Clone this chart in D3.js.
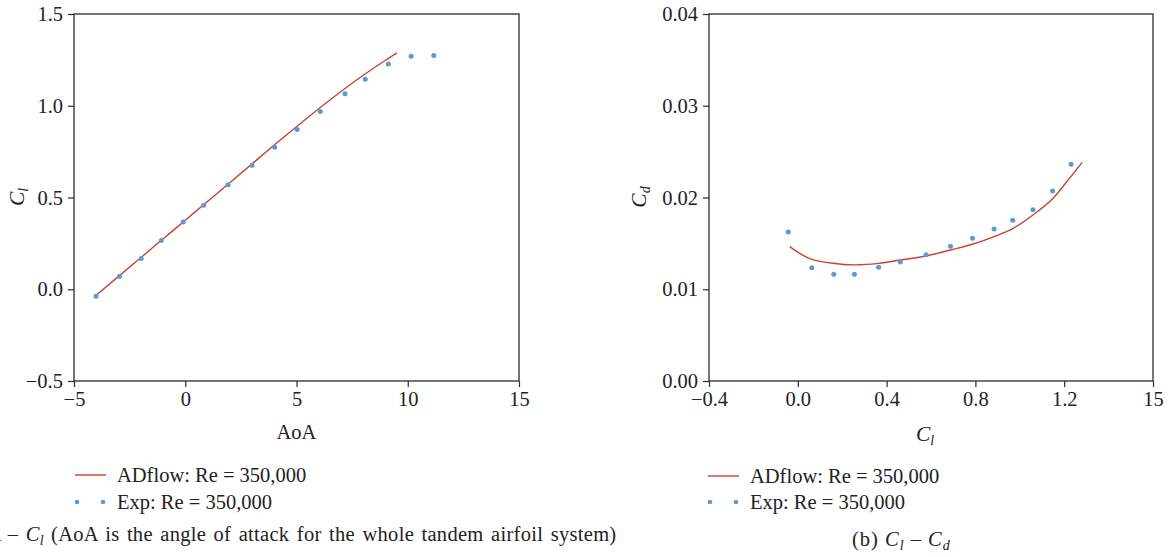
<!DOCTYPE html>
<html>
<head>
<meta charset="utf-8">
<script src="https://cdn.jsdelivr.net/npm/d3@7"></script>
<style>
  html, body { margin: 0; padding: 0; background: #fff; }
  svg { display: block; }
  text { font-family: "Liberation Serif", "DejaVu Serif", serif; fill: #222; }
</style>
</head>
<body>
<svg id="chart" width="1174" height="557"></svg>
<script>
// Panel (a): lift coefficient vs angle of attack
const aoaSim = [-4, -3, -2, -1, 0, 1, 2, 3, 4, 5, 6, 7, 8, 9, 9.52];
const clSim  = [-0.033, 0.07, 0.172, 0.274, 0.376, 0.478, 0.58, 0.683, 0.786, 0.886, 0.984, 1.078, 1.166, 1.248, 1.288];
const aoaExp = [-4.01, -2.96, -1.98, -1.08, -0.09, 0.83, 1.92, 3.0, 4.02, 5.03, 6.07, 7.18, 8.09, 9.13, 10.15, 11.17];
const clExp  = [-0.038, 0.069, 0.167, 0.265, 0.367, 0.458, 0.570, 0.676, 0.774, 0.870, 0.968, 1.066, 1.144, 1.228, 1.270, 1.274];

// Panel (b): drag polar
const polarClSim = [-0.036, 0.015, 0.063, 0.157, 0.255, 0.364, 0.462, 0.578, 0.688, 0.787, 0.884, 0.968, 1.059, 1.148, 1.206, 1.281];
const polarCdSim = [0.01464, 0.01381, 0.01326, 0.01283, 0.01266, 0.01282, 0.01319, 0.01362, 0.01428, 0.0149, 0.01573, 0.0166, 0.01809, 0.01987, 0.02155, 0.02383];
const polarClExp = [-0.043, 0.063, 0.162, 0.255, 0.364, 0.462, 0.578, 0.688, 0.787, 0.884, 0.968, 1.059, 1.148, 1.231];
const polarCdExp = [0.01624, 0.01235, 0.01163, 0.01163, 0.01239, 0.01297, 0.01377, 0.01468, 0.01555, 0.01657, 0.01751, 0.01867, 0.02071, 0.02362];

// Tick values and labels
const aoaTicks = [-5, 0, 5, 10, 15];
const clTicks = [-0.5, 0, 0.5, 1.0, 1.5];
const clTickLabels = ["\u22120.5", "0.0", "0.5", "1.0", "1.5"];
const polarXTicks = [-0.4, 0, 0.4, 0.8, 1.2, 1.6];
const polarXTickLabels = ["\u22120.4", "0.0", "0.4", "0.8", "1.2", "15"];
const cdTicks = [0, 0.01, 0.02, 0.03, 0.04];
const cdTickLabels = ["0.00", "0.01", "0.02", "0.03", "0.04"];

const seriesNames = ["ADflow: Re = 350,000", "Exp: Re = 350,000"];

const RED = "#c8432d";
const BLUE = "#5a9bd3";
const AXIS = "#2b2b2b";
const FS = 20.5;
const SUB = 14;

const svg = d3.select("#chart");

function panel(opts) {
  const { left, right, top, bottom, xDomain, yDomain, xTicks, xLabels, yTicks, yLabels,
          simX, simY, expX, expY, curve } = opts;
  const x = d3.scaleLinear().domain(xDomain).range([left, right]);
  const y = d3.scaleLinear().domain(yDomain).range([bottom, top]);
  const g = svg.append("g");

  const xAxis = d3.axisBottom(x).tickValues(xTicks).tickSize(6).tickPadding(4)
    .tickFormat((d, i) => xLabels[i]);
  const yAxis = d3.axisLeft(y).tickValues(yTicks).tickSize(6).tickPadding(5)
    .tickFormat((d, i) => yLabels[i]);

  const gx = g.append("g").attr("transform", `translate(0,${bottom})`).call(xAxis);
  const gy = g.append("g").attr("transform", `translate(${left},0)`).call(yAxis);
  [gx, gy].forEach(a => {
    a.select(".domain").remove();
    a.selectAll(".tick line").attr("stroke", AXIS).attr("stroke-width", 1.2);
    a.selectAll(".tick text").attr("font-size", FS).attr("fill", "#222")
      .attr("font-family", "Liberation Serif, serif");
  });

  // full frame around the plotting area
  g.append("rect")
    .attr("x", left).attr("y", top)
    .attr("width", right - left).attr("height", bottom - top)
    .attr("fill", "none").attr("stroke", AXIS).attr("stroke-width", 1.3);

  const simPts = simX.map((v, i) => [v, simY[i]]);
  g.append("path")
    .datum(simPts)
    .attr("fill", "none").attr("stroke", RED).attr("stroke-width", 1.4)
    .attr("d", d3.line().x(d => x(d[0])).y(d => y(d[1])).curve(curve));

  const expPts = expX.map((v, i) => [v, expY[i]]);
  g.selectAll("circle.exp").data(expPts).enter().append("circle")
    .attr("class", "exp")
    .attr("cx", d => x(d[0])).attr("cy", d => y(d[1]))
    .attr("r", 2.5).attr("fill", BLUE);

  return { x, y, g };
}

function legend(x0, yLine, yDots) {
  const g = svg.append("g");
  g.append("line")
    .attr("x1", x0).attr("x2", x0 + 31).attr("y1", yLine).attr("y2", yLine)
    .attr("stroke", RED).attr("stroke-width", 1.4);
  g.append("text").attr("x", x0 + 42).attr("y", yLine + 7)
    .attr("font-size", FS).text(seriesNames[0]);
  [x0 + 2, x0 + 28].forEach(cx => {
    g.append("circle").attr("cx", cx).attr("cy", yDots).attr("r", 2.3).attr("fill", BLUE);
  });
  g.append("text").attr("x", x0 + 42).attr("y", yDots + 7)
    .attr("font-size", FS).text(seriesNames[1]);
}

// Panel (a)
const pa = panel({
  left: 74, right: 519, top: 14, bottom: 381,
  xDomain: [-5, 15], yDomain: [-0.5, 1.5],
  xTicks: aoaTicks, xLabels: aoaTicks.map(d => d < 0 ? "\u2212" + Math.abs(d) : String(d)),
  yTicks: clTicks, yLabels: clTickLabels,
  simX: aoaSim, simY: clSim, expX: aoaExp, expY: clExp,
  curve: d3.curveMonotoneX
});

svg.append("text").attr("x", 296.5).attr("y", 439).attr("text-anchor", "middle")
  .attr("font-size", FS).text("AoA");

const yla = svg.append("text")
  .attr("transform", "translate(24,197) rotate(-90)")
  .attr("text-anchor", "middle").attr("font-size", FS + 1);
yla.append("tspan").attr("font-style", "italic").text("C");
yla.append("tspan").attr("font-style", "italic").attr("font-size", SUB).attr("dy", 4).text("l");

legend(75, 475, 502);

// Caption (a): the leading part runs past the left edge of the page
const capA0 = svg.append("text").attr("x", 44).attr("y", 541)
  .attr("text-anchor", "end").attr("font-size", FS)
  .attr("letter-spacing", 0.3).attr("word-spacing", 2);
capA0.append("tspan").text("(a) AoA \u2013 ");
capA0.append("tspan").attr("font-style", "italic").text("C");
capA0.append("tspan").attr("font-style", "italic").attr("font-size", SUB).attr("dy", 4).text("l");
svg.append("text").attr("x", 51).attr("y", 541).attr("font-size", FS)
  .attr("letter-spacing", 0.3).attr("word-spacing", 2)
  .text("(AoA is the angle of attack for the whole tandem airfoil system)");

// Panel (b)
const pb = panel({
  left: 709, right: 1153, top: 14, bottom: 381,
  xDomain: [-0.4, 1.6], yDomain: [0, 0.04],
  xTicks: polarXTicks, xLabels: polarXTickLabels,
  yTicks: cdTicks, yLabels: cdTickLabels,
  simX: polarClSim, simY: polarCdSim, expX: polarClExp, expY: polarCdExp,
  curve: d3.curveCatmullRom
});

const xlb = svg.append("text").attr("x", 925).attr("y", 441)
  .attr("text-anchor", "middle").attr("font-size", FS + 1);
xlb.append("tspan").attr("font-style", "italic").text("C");
xlb.append("tspan").attr("font-style", "italic").attr("font-size", SUB).attr("dy", 4).text("l");

const ylb = svg.append("text")
  .attr("transform", "translate(646,197) rotate(-90)")
  .attr("text-anchor", "middle").attr("font-size", FS + 1);
ylb.append("tspan").attr("font-style", "italic").text("C");
ylb.append("tspan").attr("font-style", "italic").attr("font-size", SUB).attr("dy", 4).text("d");

legend(708, 476, 502);

const capB = svg.append("text").attr("x", 852).attr("y", 546).attr("font-size", FS)
  .attr("letter-spacing", 1);
capB.append("tspan").text("(b) ");
capB.append("tspan").attr("font-style", "italic").text("C");
capB.append("tspan").attr("font-style", "italic").attr("font-size", SUB).attr("dy", 4).text("l");
capB.append("tspan").attr("dy", -4).text(" \u2013 ");
capB.append("tspan").attr("font-style", "italic").text("C");
capB.append("tspan").attr("font-style", "italic").attr("font-size", SUB).attr("dy", 4).text("d");
</script>
</body>
</html>
